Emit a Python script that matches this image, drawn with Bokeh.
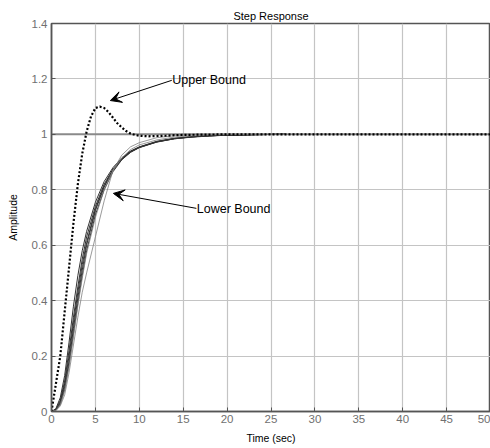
from bokeh.plotting import figure
from bokeh.models import Range1d, FixedTicker, CustomJSTickFormatter, Arrow, VeeHead, Label
from bokeh.embed import file_html
from bokeh.resources import INLINE

# Upper bound (dotted)
t_ub = [0, 0.5, 1.0, 1.5, 2.0, 2.5, 3.0, 3.5, 4.0, 4.5, 5.0, 5.5, 6.0, 6.5, 7.0, 7.5, 8.0, 8.5, 9.0, 9.5,
        10, 11, 12, 13, 14, 15, 17, 20, 25, 30, 40, 50]
y_ub = [0, 0.1, 0.2, 0.36, 0.52, 0.68, 0.82, 0.93, 1.01, 1.065, 1.095, 1.10, 1.095, 1.08, 1.06, 1.04, 1.025,
        1.012, 1.003, 0.998, 0.995, 0.993, 0.994, 0.995, 0.997, 0.998, 0.999, 1.0, 1.0, 1.0, 1.0, 1.0]

# Lower bound family (solid)
t_lb = [0, 0.5, 1, 1.5, 2, 2.5, 3, 3.5, 4, 5, 6, 7, 8, 9, 10, 12, 14, 16, 18, 20, 23, 26.6]
lb_a = [0, 0.01, 0.05, 0.13, 0.25, 0.38, 0.49, 0.58, 0.65, 0.755, 0.83, 0.88, 0.915, 0.94, 0.955, 0.975, 0.986, 0.992, 0.995, 0.997, 0.999, 1.0]
lb_b = [0, 0.008, 0.04, 0.11, 0.22, 0.34, 0.45, 0.55, 0.63, 0.74, 0.82, 0.875, 0.912, 0.938, 0.954, 0.974, 0.985, 0.991, 0.995, 0.997, 0.999, 1.0]
lb_c = [0, 0.006, 0.035, 0.10, 0.20, 0.32, 0.43, 0.53, 0.61, 0.73, 0.815, 0.872, 0.91, 0.937, 0.953, 0.973, 0.985, 0.991, 0.995, 0.997, 0.999, 1.0]
lb_d = [0, 0.005, 0.03, 0.09, 0.18, 0.30, 0.41, 0.51, 0.60, 0.725, 0.81, 0.87, 0.91, 0.936, 0.953, 0.973, 0.984, 0.991, 0.995, 0.997, 0.999, 1.0]
lb_e = [0, 0.004, 0.025, 0.08, 0.17, 0.28, 0.39, 0.49, 0.58, 0.71, 0.80, 0.865, 0.908, 0.935, 0.952, 0.972, 0.984, 0.99, 0.994, 0.997, 0.999, 1.0]
lb_f = [0, 0.003, 0.02, 0.06, 0.14, 0.24, 0.34, 0.43, 0.50, 0.63, 0.76, 0.87, 0.925, 0.955, 0.97, 0.988, 0.995, 0.998, 0.999, 1.0, 1.0, 1.0]
lb_g = [0, 0.004, 0.025, 0.075, 0.16, 0.27, 0.38, 0.48, 0.57, 0.70, 0.80, 0.87, 0.915, 0.945, 0.962, 0.98, 0.99, 0.995, 0.998, 0.999, 1.0, 1.0]

x_ticks = [0, 5, 10, 15, 20, 25, 30, 35, 40, 45, 50]
y_ticks = [0, 0.2, 0.4, 0.6, 0.8, 1.0, 1.2, 1.4]
steady = [1.0, 1.0]
steady_t = [0, 50]

FONT = "Liberation Sans"

p = figure(width=490, height=448, output_backend="svg", toolbar_location=None,
           x_range=Range1d(0, 50), y_range=Range1d(0, 1.4),
           min_border_left=51, min_border_right=0, min_border_top=23, min_border_bottom=37,
           title="Step Response")
p.title.align = "center"
p.title.text_font = FONT
p.title.text_font_size = "11px"
p.title.text_font_style = "normal"
p.title.text_color = "black"
p.title.standoff = 3
p.title.offset = 0

p.outline_line_color = "#555555"
p.outline_line_width = 1.5
p.background_fill_color = "white"
p.border_fill_color = "white"

for ax in (p.xaxis[0], p.yaxis[0]):
    ax.axis_line_color = "#555555"
    ax.axis_line_width = 1.5
    ax.major_tick_in = 4
    ax.major_tick_out = 0
    ax.major_tick_line_color = "#555555"
    ax.minor_tick_line_color = None
    ax.major_label_text_font = FONT
    ax.major_label_text_font_size = "11.5px"
    ax.major_label_text_color = "#707070"
    ax.axis_label_text_font = FONT
    ax.axis_label_text_font_size = "10.5px"
    ax.axis_label_text_font_style = "normal"
    ax.axis_label_text_color = "black"

p.xaxis.ticker = FixedTicker(ticks=x_ticks)
p.yaxis.ticker = FixedTicker(ticks=y_ticks)
p.yaxis.formatter = CustomJSTickFormatter(code="return tick.toFixed(1).replace(/\\.0$/, '');")
p.xaxis.axis_label = "Time (sec)"
p.yaxis.axis_label = "Amplitude"
p.xaxis.major_label_standoff = 3
p.yaxis.major_label_standoff = 4
p.xaxis.axis_label_standoff = 6
p.yaxis.axis_label_standoff = 10

p.xgrid.grid_line_color = "#c4c4c4"
p.ygrid.grid_line_color = "#c4c4c4"
p.xgrid.grid_line_width = 1.2
p.ygrid.grid_line_width = 1.2

p.line(steady_t, steady, line_color="#8a8a8a", line_width=2)

for ys in (lb_a, lb_b, lb_c, lb_d, lb_e):
    p.line(t_lb, ys, line_color="#333333", line_width=1)
for ys in (lb_f, lb_g):
    p.line(t_lb, ys, line_color="#808080", line_width=0.8)

p.line(t_ub, y_ub, line_color="black", line_width=2.2, line_dash="2 2")

p.add_layout(Arrow(end=VeeHead(size=11, fill_color="black", line_color="black"),
                   x_start=13.7, y_start=1.195, x_end=6.7, y_end=1.122,
                   line_color="black", line_width=1))
p.add_layout(Arrow(end=VeeHead(size=11, fill_color="black", line_color="black"),
                   x_start=16.5, y_start=0.733, x_end=7.05, y_end=0.787,
                   line_color="black", line_width=1))
p.add_layout(Label(x=13.75, y=1.195, text="Upper Bound", text_font=FONT, text_font_size="12.5px",
                   text_baseline="middle", text_align="left", text_color="black"))
p.add_layout(Label(x=16.55, y=0.729, text="Lower Bound", text_font=FONT, text_font_size="12.5px",
                   text_baseline="middle", text_align="left", text_color="black"))

open("out.html", "w").write(file_html(p, INLINE))
